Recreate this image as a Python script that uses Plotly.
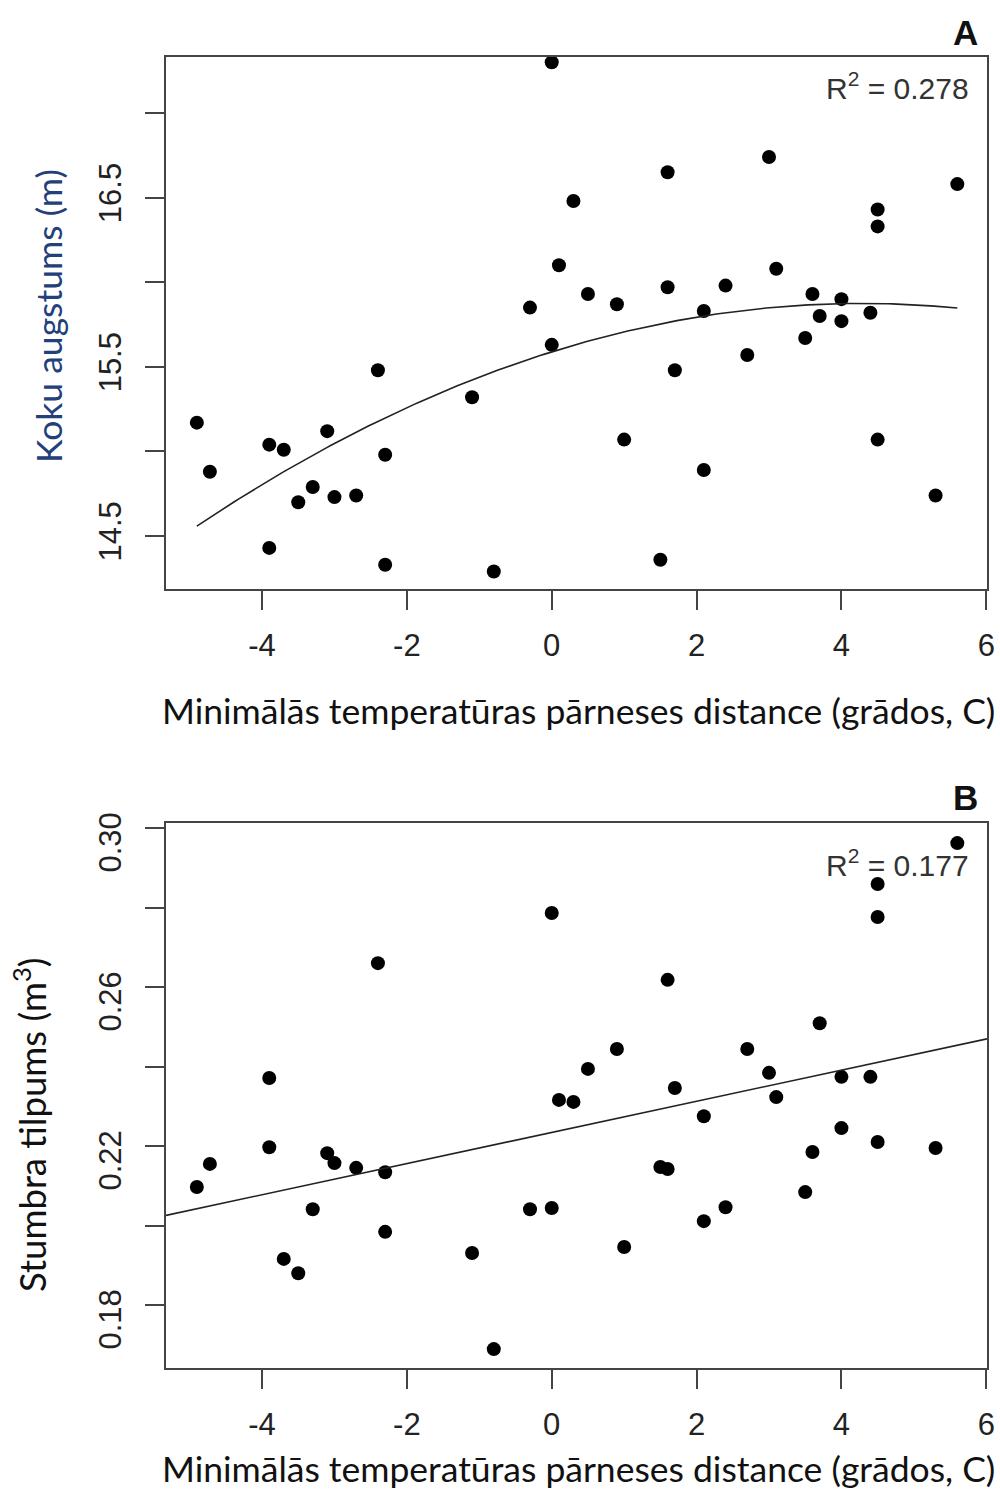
import numpy as np
import plotly.graph_objects as go

# ---- data ----
x_temp = [-4.9, -4.72, -3.9, -3.9, -3.7, -3.5, -3.3, -3.1, -3.0, -2.7, -2.4, -2.3, -2.3,
          -1.1, -0.8, -0.3, 0.0, 0.0, 0.1, 0.3, 0.5, 0.9, 1.0, 1.5, 1.6, 1.6, 1.7, 2.1,
          2.1, 2.4, 2.7, 3.0, 3.1, 3.5, 3.6, 3.7, 4.0, 4.0, 4.4, 4.5, 4.5, 4.5, 5.3, 5.6]

height_m = [15.17, 14.88, 15.04, 14.43, 15.01, 14.70, 14.79, 15.12, 14.73, 14.74, 15.48,
            14.98, 14.33, 15.32, 14.29, 15.85, 17.30, 15.63, 16.10, 16.48, 15.93, 15.87,
            15.07, 14.36, 16.65, 15.97, 15.48, 15.83, 14.89, 15.98, 15.57, 16.74, 16.08,
            15.67, 15.93, 15.80, 15.90, 15.77, 15.82, 16.43, 16.33, 15.07, 14.74, 16.58]

volume_m3 = [0.2097, 0.2155, 0.2197, 0.2371, 0.1916, 0.1880, 0.2041, 0.2182, 0.2157,
             0.2145, 0.2660, 0.2134, 0.1984, 0.1931, 0.1689, 0.2041, 0.2786, 0.2044,
             0.2316, 0.2311, 0.2394, 0.2444, 0.1946, 0.2147, 0.2618, 0.2142, 0.2346,
             0.2275, 0.2011, 0.2046, 0.2444, 0.2384, 0.2323, 0.2084, 0.2185, 0.2509,
             0.2374, 0.2245, 0.2374, 0.2859, 0.2776, 0.2210, 0.2195, 0.2962]

x_ticks = [-4, -2, 0, 2, 4, 6]
x_ticktext = ["-4", "-2", "0", "2", "4", "6"]
h_ticks = [14.5, 15.0, 15.5, 16.0, 16.5, 17.0]
h_ticktext = ["14.5", "", "15.5", "", "16.5", ""]
v_ticks = [0.18, 0.20, 0.22, 0.24, 0.26, 0.28, 0.30]
v_ticktext = ["0.18", "", "0.22", "", "0.26", "", "0.30"]

r2_a = "0.278"
r2_b = "0.177"
x_title = "Minimālās temperatūras pārneses distance (grādos, C)"

# ---- fits ----
xa = np.array(x_temp)
c2 = np.polyfit(xa, np.array(height_m), 2)
xs_curve = np.linspace(xa.min(), xa.max(), 200)
ys_curve = np.polyval(c2, xs_curve)

x_range = [-5.326, 6.01]
c1 = np.polyfit(xa, np.array(volume_m3), 1)
xs_line = np.array(x_range)
ys_line = np.polyval(c1, xs_line)

fig = go.Figure()
mk = dict(color="black", size=14)
fig.add_trace(go.Scatter(x=x_temp, y=height_m, mode="markers", marker=mk, xaxis="x", yaxis="y"))
fig.add_trace(go.Scatter(x=xs_curve, y=ys_curve, mode="lines", line=dict(color="#222", width=1.6),
                         xaxis="x", yaxis="y"))
fig.add_trace(go.Scatter(x=x_temp, y=volume_m3, mode="markers", marker=mk, xaxis="x2", yaxis="y2"))
fig.add_trace(go.Scatter(x=xs_line, y=ys_line, mode="lines", line=dict(color="#222", width=1.6),
                         xaxis="x2", yaxis="y2"))

axcol = "#444"
tickfont = dict(family="Liberation Sans, Arial", size=31, color="#222")
common_x = dict(range=x_range, tickvals=x_ticks, ticktext=x_ticktext, ticks="outside", ticklen=19,
                tickwidth=1.5, tickcolor=axcol, showline=True, linecolor=axcol, linewidth=1.5,
                mirror=True, showgrid=False, zeroline=False, tickfont=tickfont,
                ticklabelstandoff=9, automargin=False)
common_y = dict(ticks="outside", ticklen=19, tickwidth=1.5, tickcolor=axcol, showline=True,
                linecolor=axcol, linewidth=1.5, mirror=True, showgrid=False, zeroline=False,
                tickfont=tickfont, tickangle=-90, ticklabelstandoff=12, automargin=False)

H = 1492.0
fig.update_layout(
    width=1000, height=1492, margin=dict(l=0, r=0, t=0, b=0, autoexpand=False),
    paper_bgcolor="white", plot_bgcolor="white", showlegend=False,
    xaxis=dict(domain=[0.166, 0.987], anchor="y", **common_x),
    yaxis=dict(domain=[1 - 589 / H, 1 - 57 / H], anchor="x", range=[14.187, 17.331],
               tickvals=h_ticks, ticktext=h_ticktext, **common_y),
    xaxis2=dict(domain=[0.166, 0.987], anchor="y2", **common_x),
    yaxis2=dict(domain=[1 - 1368 / H, 1 - 823 / H], anchor="x2", range=[0.16415, 0.30126],
                tickvals=v_ticks, ticktext=v_ticktext, ticklabelshift=19, **common_y),
)

title_family = "Lato, Open Sans, sans-serif"
label_family = "Liberation Sans, Arial"
base = dict(xref="paper", yref="paper", showarrow=False, xanchor="center", yanchor="middle")
ann = [
    dict(text=x_title, x=0.578, y=1 - 710 / H, font=dict(family=title_family, size=35.5, color="#111"), **base),
    dict(text=x_title, x=0.578, y=1 - 1468 / H, font=dict(family=title_family, size=35.5, color="#111"), **base),
    dict(text="Koku augstums (m)", x=0.048, y=1 - 316 / H, textangle=-90,
         font=dict(family=title_family, size=35.5, color="#23407a"), **base),
    dict(text="Stumbra tilpums (m<sup>3</sup>)", x=0.030, y=1 - 1125 / H, textangle=-90,
         font=dict(family=title_family, size=36.5, color="#111"), **base),
    dict(text="<b>A</b>", x=0.965, y=1 - 33 / H, font=dict(family=label_family, size=35, color="#111"), **base),
    dict(text="<b>B</b>", x=0.965, y=1 - 797 / H, font=dict(family=label_family, size=35, color="#111"), **base),
]
r2base = dict(xref="paper", yref="paper", showarrow=False, xanchor="right", yanchor="middle")
ann += [
    dict(text="R<sup>2</sup> = " + r2_a, x=0.971, y=1 - 86 / H,
         font=dict(family=label_family, size=30, color="#333"), **r2base),
    dict(text="R<sup>2</sup> = " + r2_b, x=0.971, y=1 - 863 / H,
         font=dict(family=label_family, size=30, color="#333"), **r2base),
]
fig.update_layout(annotations=ann)

fig.write_html("out.html")
